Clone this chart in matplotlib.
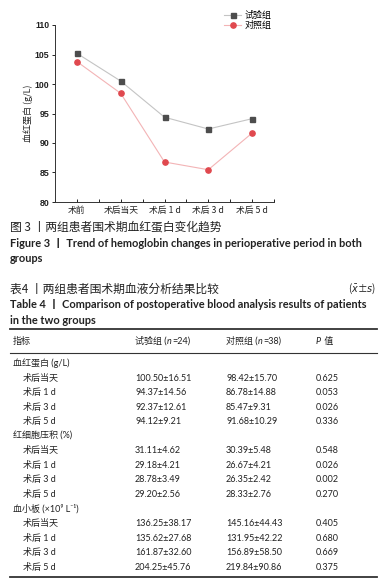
import matplotlib
matplotlib.use("Agg")
import matplotlib.pyplot as plt
from matplotlib.lines import Line2D

# ---------------- data ----------------
time_points = ["术前", "术后当天", "术后 1 d", "术后 3 d", "术后 5 d"]
trial_hb = [105.2, 100.50, 94.37, 92.37, 94.12]
control_hb = [103.8, 98.42, 86.78, 85.47, 91.68]
series_names = ["试验组", "对照组"]
y_ticks = [80, 85, 90, 95, 100, 105, 110]

# header pieces: (text, italic?)
table_headers = [
    [("指标", False)],
    [("试验组 (", False), ("n", True), ("=24)", False)],
    [("对照组 (", False), ("n", True), ("=38)", False)],
    [("P", True), (" 值", False)],
]
group_names = ["血红蛋白 (g/L)", "红细胞压积 (%)", "血小板 (×10⁹ L⁻¹)"]
sub_rows = ["术后当天", "术后 1 d", "术后 3 d", "术后 5 d"]
trial_vals = [
    ["100.50±16.51", "94.37±14.56", "92.37±12.61", "94.12±9.21"],
    ["31.11±4.62", "29.18±4.21", "28.78±3.49", "29.20±2.56"],
    ["136.25±38.17", "135.62±27.68", "161.87±32.60", "204.25±45.76"],
]
control_vals = [
    ["98.42±15.70", "86.78±14.88", "85.47±9.31", "91.68±10.29"],
    ["30.39±5.48", "26.67±4.21", "26.35±2.42", "28.33±2.76"],
    ["145.16±44.43", "131.95±42.22", "156.89±58.50", "219.84±90.86"],
]
p_vals = [
    ["0.625", "0.053", "0.026", "0.336"],
    ["0.548", "0.026", "0.002", "0.270"],
    ["0.405", "0.680", "0.669", "0.375"],
]

fig_caption_cn = "图 3 丨两组患者围术期血红蛋白变化趋势"
fig_caption_en1 = "Figure 3 丨 Trend of hemoglobin changes in perioperative period in both"
fig_caption_en2 = "groups"
tab_caption_cn = "表4 丨两组患者围术期血液分析结果比较"
tab_caption_en1 = "Table 4 丨 Comparison of postoperative blood analysis results of patients"
tab_caption_en2 = "in the two groups"

# ---------------- figure ----------------
W, H = 388, 585
plt.rcParams['font.family'] = ['Noto Sans CJK SC', 'DejaVu Sans']
plt.rcParams['mathtext.fontset'] = 'dejavusans'
fig = plt.figure(figsize=(W / 100, H / 100), dpi=100)
fig.patch.set_facecolor('white')
TXT = '#222222'


def fx(x):
    return x / W


def fy(y):
    return 1 - y / H


ax = fig.add_axes([fx(55), fy(202), fx(274) - fx(55), fy(25) - fy(202)])
xs = list(range(len(time_points)))
ax.plot(xs, trial_hb, color='#c4c4c4', lw=0.8, marker='s', ms=3.6,
        mfc='#4d4d4d', mec='#4d4d4d', zorder=3)
ax.plot(xs, control_hb, color='#f3b4b6', lw=0.8, marker='o', ms=3.8,
        mfc='#e0484e', mec='#e0484e', zorder=3)
ax.set_xlim(-0.5, len(time_points) - 0.5)
ax.set_ylim(80, 110)
ax.set_yticks(y_ticks)
ax.set_yticklabels([str(v) for v in y_ticks], fontsize=6.3, fontweight='bold',
                   family=['Liberation Sans'], color=TXT)
ax.set_xticks(xs)
ax.set_xticklabels(time_points, fontsize=6.3, color=TXT)
ax.set_xticks([i + 0.5 for i in range(-1, len(time_points))], minor=True)
for s in ['top', 'right']:
    ax.spines[s].set_visible(False)
for s in ['left', 'bottom']:
    ax.spines[s].set_linewidth(0.7)
    ax.spines[s].set_color('#333333')
ax.tick_params(axis='x', which='major', direction='in', length=2.5, width=0.6, pad=3)
ax.tick_params(axis='x', which='minor', direction='in', length=2, width=0.6)
ax.tick_params(axis='y', which='major', direction='out', length=2.5, width=0.6, pad=1.5)
ax.set_ylabel("血红蛋白 (g/L)", fontsize=6.5, labelpad=1, color=TXT)

handles = [
    Line2D([], [], color='#c4c4c4', lw=0.8, marker='s', ms=3.6, mfc='#4d4d4d', mec='#4d4d4d'),
    Line2D([], [], color='#f3b4b6', lw=0.8, marker='o', ms=3.8, mfc='#e0484e', mec='#e0484e'),
]
fig.legend(handles, series_names, loc='upper left', bbox_to_anchor=(fx(218), fy(5)),
           frameon=False, fontsize=6.5, handlelength=1.9, labelspacing=0.05,
           handletextpad=0.3, borderpad=0.2)

# ---------------- captions ----------------
cap_fam = ['Lato', 'Noto Sans CJK SC']
fig.text(fx(10), fy(227), fig_caption_cn, fontsize=8.5, va='center', color=TXT)
fig.text(fx(10), fy(243), fig_caption_en1, fontsize=7.9, fontweight='bold',
         family=cap_fam, va='center', color=TXT)
fig.text(fx(10), fy(259), fig_caption_en2, fontsize=7.9, fontweight='bold',
         family=cap_fam, va='center', color=TXT)
fig.text(fx(10), fy(289), tab_caption_cn, fontsize=8.5, va='center', color=TXT)
fig.text(fx(376), fy(289), r"($\bar{x}$±$s$)", fontsize=7, ha='right', va='center',
         color=TXT)
fig.text(fx(10), fy(304), tab_caption_en1, fontsize=7.9, fontweight='bold',
         family=cap_fam, va='center', color=TXT)
fig.text(fx(10), fy(320), tab_caption_en2, fontsize=7.9, fontweight='bold',
         family=cap_fam, va='center', color=TXT)

# ---------------- table ----------------
tfs = 6.5
tab_fam = ['Lato', 'Noto Sans CJK SC', 'DejaVu Sans']
col_x = [13, 135, 226, 316]
x0, x1 = fx(10), fx(377)
fig.add_artist(Line2D([x0, x1], [fy(329), fy(329)], color='#333333', lw=1.3))
fig.add_artist(Line2D([x0, x1], [fy(353), fy(353)], color='#333333', lw=0.8))
fig.add_artist(Line2D([x0, x1], [fy(577), fy(577)], color='#333333', lw=1.3))

renderer = fig.canvas.get_renderer()


def rich_text(xpx, ypx, pieces):
    cur = xpx
    for txt, ital in pieces:
        t = fig.text(fx(cur), fy(ypx), txt, fontsize=tfs, va='center', family=tab_fam,
                     style='italic' if ital else 'normal', color=TXT)
        bb = t.get_window_extent(renderer=renderer)
        cur += bb.width + (0.5 if ital else 0)


for cx, h in zip(col_x, table_headers):
    rich_text(cx, 341, h)

y = 363.5
step = 14.55
for g, gname in enumerate(group_names):
    fig.text(fx(13), fy(y), gname, fontsize=tfs, va='center', family=tab_fam, color=TXT)
    y += step
    for r, rname in enumerate(sub_rows):
        fig.text(fx(23), fy(y), rname, fontsize=tfs, va='center', family=tab_fam, color=TXT)
        fig.text(fx(col_x[1]), fy(y), trial_vals[g][r], fontsize=tfs, va='center',
                 family=tab_fam, color=TXT)
        fig.text(fx(col_x[2]), fy(y), control_vals[g][r], fontsize=tfs, va='center',
                 family=tab_fam, color=TXT)
        fig.text(fx(col_x[3]), fy(y), p_vals[g][r], fontsize=tfs, va='center',
                 family=tab_fam, color=TXT)
        y += step

fig.savefig("out.png", dpi=100, facecolor='white')
